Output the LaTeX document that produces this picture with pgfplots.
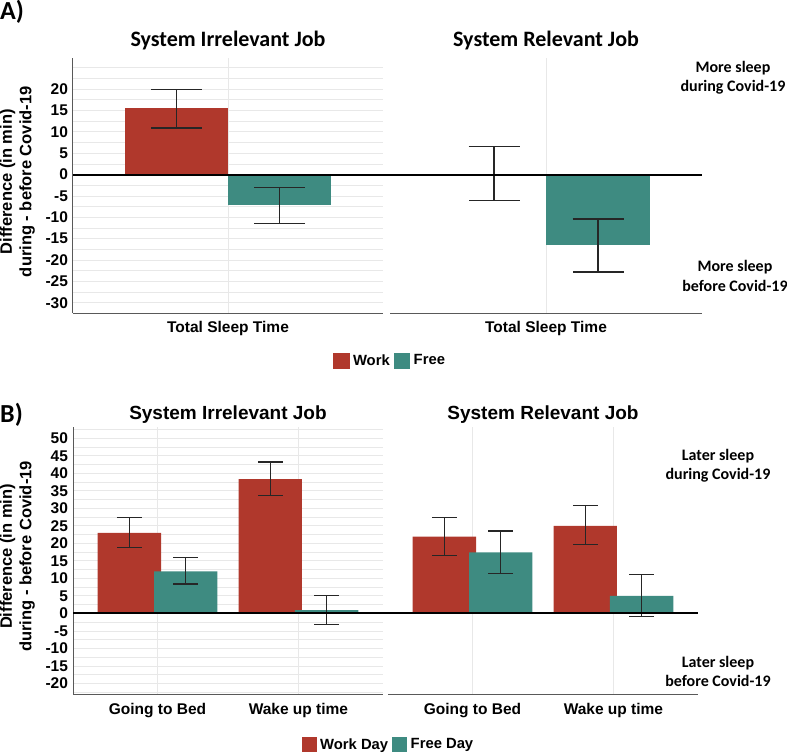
\documentclass[border=0pt]{standalone}
\usepackage{pgfplots}
\pgfplotsset{compat=1.18}
\usepackage{fontspec}
\setmainfont{Liberation Sans}
\newfontfamily\calfont{Carlito}
\definecolor{cWork}{RGB}{176,56,44}
\definecolor{cFree}{RGB}{62,139,129}

\pgfplotsset{
  facet/.style={
    scale only axis, width=310pt,
    ybar, bar width=0.4,
    axis x line=bottom, axis y line=left,
    axis line style={-, black!65, line width=1pt},
    major tick length=0pt, minor tick length=0pt,
    xmajorgrids, ymajorgrids, yminorgrids,
    major grid style={black!9, line width=0.8pt},
    minor grid style={black!9, line width=0.8pt},
    ticklabel style={font=\fontsize{15.5}{18}\selectfont\bfseries},
    xticklabel style={yshift=-5pt},
    yticklabel style={xshift=-1.5pt},
    clip=false,
    legend style={draw=none, fill=none, inner sep=0pt, anchor=center,
      font=\fontsize{14.8}{17}\selectfont\bfseries, legend columns=2,
      /tikz/every odd column/.append style={column sep=1.5pt},
      /tikz/every even column/.append style={column sep=2pt}},
  },
  noyaxis/.style={axis y line=none, yticklabels={}},
  ylab/.style={ylabel={Difference (in min)\\during - before Covid-19},
    ylabel style={align=center, font=\fontsize{16.5}{19.5}\selectfont\bfseries,
      inner sep=0pt, at={(axis description cs:-0.1226,0.515)}, anchor=south}},
  titA/.style={title={#1}, title style={at={(axis description cs:0.5,1)}, anchor=base,
      yshift=5pt, font=\calfont\bfseries\fontsize{22}{24}\selectfont}},
  titB/.style={title={#1}, title style={at={(axis description cs:0.5,1)}, anchor=base,
      yshift=1pt, font=\bfseries\fontsize{19}{22}\selectfont}},
  panelA/.style={height=255pt, ymin=-32.4, ymax=27.3, xmin=-0.6, xmax=0.6,
    xtick={0}, xticklabels={Total Sleep Time},
    ytick={-30,-25,...,20}, yticklabels={-30,-25,-20,-15,-10,-5,0,5,10,15,20},
    minor ytick={-30,-27.5,...,25}, bar width=0.4},
  panelB/.style={height=267.6pt, ymin=-23.1, ymax=53.3, xmin=-0.6, xmax=1.6,
    xtick={0,1}, xticklabels={Going to Bed,Wake up time},
    ytick={-20,-15,...,50}, yticklabels={-20,-15,-10,-5,0,5,10,15,20,25,30,35,40,45,50},
    minor ytick={-22.5,-20,...,52.5}, bar width=0.45},
  ebA/.style={error bars/.cd, y dir=both, y explicit,
    error bar style={black!85, line width=1.2pt},
    error mark options={black!85, line width=1.2pt, mark size=25.5pt, rotate=90}},
  ebB/.style={error bars/.cd, y dir=both, y explicit,
    error bar style={black!85, line width=1.2pt},
    error mark options={black!85, line width=1.2pt, mark size=12.5pt, rotate=90}},
}

\begin{document}
\begin{tikzpicture}
\useasboundingbox (0pt,0pt) rectangle (787pt,-754pt);

% ---------------- Panel A ----------------
\begin{axis}[facet, panelA, ylab, titA={System Irrelevant Job},
  at={(73pt,-313pt)}, anchor=south west,
  legend style={at={(axis description cs:1.0226,-0.1863)}}]
\addplot[fill=cWork, draw=none, bar shift=-0.2,
  legend image code/.code={\fill[cWork] (0pt,-8pt) rectangle (16.5pt,8pt);}, ebA]
  coordinates {(0,15.5) += (0,4.5) -= (0,4.6)};
\addlegendentry{Work}
\addplot[fill=cFree, draw=none, bar shift=0.2,
  legend image code/.code={\fill[cFree] (0pt,-8pt) rectangle (16.5pt,8pt);}, ebA]
  coordinates {(0,-7.2) += (0,4.2) -= (0,4.2)};
\addlegendentry{Free}
\coordinate (za1) at (axis cs:-0.6,0);
\end{axis}

\begin{axis}[facet, panelA, noyaxis, width=312pt, titA={System Relevant Job},
  at={(390pt,-313pt)}, anchor=south west]
\addplot[fill=cWork, draw=none, bar shift=-0.2, ebA]
  coordinates {(0,0.2) += (0,6.3) -= (0,6.2)};
\addplot[fill=cFree, draw=none, bar shift=0.2, ebA]
  coordinates {(0,-16.5) += (0,6.1) -= (0,6.3)};
\coordinate (za2) at (axis cs:0.6,0);
\end{axis}
\draw[black, line width=2.2pt] (za1) -- (za2);

% ---------------- Panel B ----------------
\begin{axis}[facet, panelB, ylab, titB={System Irrelevant Job},
  at={(73pt,-694.3pt)}, anchor=south west,
  legend style={at={(axis description cs:1.0177,-0.1876)}}]
\addplot[fill=cWork, draw=none, bar shift=-0.2,
  legend image code/.code={\fill[cWork] (0pt,-7.5pt) rectangle (15pt,7.5pt);}, ebB]
  coordinates {(0,23.0) += (0,4.3) -= (0,4.1) (1,38.3) += (0,4.9) -= (0,4.7)};
\addlegendentry{Work Day}
\addplot[fill=cFree, draw=none, bar shift=0.2,
  legend image code/.code={\fill[cFree] (0pt,-7.5pt) rectangle (15pt,7.5pt);}, ebB]
  coordinates {(0,12.0) += (0,4.0) -= (0,3.6) (1,0.9) += (0,4.3) -= (0,4.0)};
\addlegendentry{Free Day}
\coordinate (zb1) at (axis cs:-0.6,0);
\end{axis}

\begin{axis}[facet, panelB, noyaxis, titB={System Relevant Job},
  at={(388pt,-694.3pt)}, anchor=south west]
\addplot[fill=cWork, draw=none, bar shift=-0.2, ebB]
  coordinates {(0,21.9) += (0,5.5) -= (0,5.4) (1,25.0) += (0,5.7) -= (0,5.3)};
\addplot[fill=cFree, draw=none, bar shift=0.2, ebB]
  coordinates {(0,17.4) += (0,6.1) -= (0,5.9) (1,5.0) += (0,6.1) -= (0,5.8)};
\coordinate (zb2) at (axis cs:1.6,0);
\end{axis}
\draw[black, line width=2.2pt] (zb1) -- (zb2);

% ---------------- Panel letters and annotations ----------------
\node[anchor=base west, inner sep=0pt, font=\calfont\bfseries\fontsize{26}{28}\selectfont] at (0pt,-20pt) {A)};
\node[anchor=base west, inner sep=0pt, font=\calfont\bfseries\fontsize{26}{28}\selectfont] at (0pt,-422.7pt) {B)};
\begin{scope}[every node/.style={align=center, inner sep=0pt, font=\calfont\bfseries\fontsize{16}{19.3}\selectfont}]
\node at (733pt,-77.5pt) {More sleep\\during Covid-19};
\node at (735pt,-276pt) {More sleep\\before Covid-19};
\node at (718pt,-466pt) {Later sleep\\during Covid-19};
\node at (718pt,-671.5pt) {Later sleep\\before Covid-19};
\end{scope}
\end{tikzpicture}
\end{document}
